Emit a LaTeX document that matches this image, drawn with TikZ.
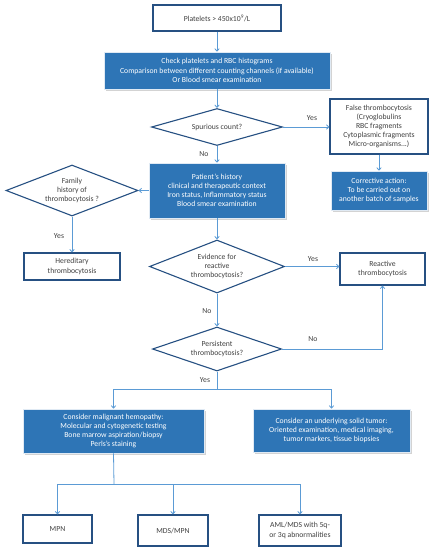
\documentclass[tikz,border=0pt]{standalone}
\usepackage{fontspec}
\setmainfont{Carlito}
\usetikzlibrary{shapes.geometric,arrows.meta,shadows}
\definecolor{bfill}{RGB}{46,117,182}
\definecolor{bdark}{RGB}{38,80,130}
\definecolor{lnk}{RGB}{91,155,213}
\definecolor{txt}{RGB}{64,64,64}
\tikzset{
  every node/.style={font=\fontsize{7.7}{9.2}\selectfont, align=center, inner sep=0pt},
  wbox/.style={rectangle, draw=bdark, line width=1.1pt, fill=white, text=txt},
  bbox/.style={rectangle, draw=white!85!bfill, line width=0.6pt, fill=bfill, text=white,
     drop shadow={shadow xshift=1.5pt, shadow yshift=-1.5pt, opacity=0.35, fill=gray}},
  dia/.style={diamond, draw=bdark, line width=1.1pt, fill=white},
  dtext/.style={text=txt},
  conn/.style={draw=lnk, line width=0.8pt, -{Straight Barb[length=2.5pt,width=4.5pt]}},
  plain/.style={draw=lnk, line width=0.8pt},
  lab/.style={text=txt}
}
\begin{document}
\begin{tikzpicture}[x=1pt,y=-1pt]
\useasboundingbox (0,0) rectangle (433,550);
\node[wbox, minimum width=128, minimum height=26] (plat) at (217,18) {Platelets > 450x10\textsuperscript{9}/L};
\node[bbox, minimum width=226, minimum height=37] (check) at (217,70.5) {Check platelets and RBC histograms\\Comparison between different counting channels (if available)\\Or Blood smear examination};
\node[dia, minimum width=131, minimum height=37] (spur) at (217,127) {};
\node[dtext] (spurt) at (spur.center) {Spurious count?};
\node[wbox, minimum width=98, minimum height=55] (false) at (379,126.5) {False thrombocytosis\\(Cryoglobulins\\RBC fragments\\Cytoplasmic fragments\\Micro-organisms...)};
\node[bbox, minimum width=136, minimum height=55] (pat) at (217,190.5) {Patient's history\\clinical and therapeutic context\\Iron status, Inflammatory status\\Blood smear examination};
\node[bbox, minimum width=96, minimum height=39] (corr) at (379,190.5) {Corrective action:\\To be carried out on\\another batch of samples};
\node[dia, minimum width=132, minimum height=51] (fam) at (72,190.5) {};
\node[dtext] (famt) at (fam.center) {Family\\history of\\thrombocytosis ?};
\node[wbox, minimum width=96, minimum height=27] (her) at (72,266.5) {Hereditary\\thrombocytosis};
\node[dia, minimum width=135, minimum height=53] (evid) at (217,266.5) {};
\node[dtext] (evidt) at (evid.center) {Evidence for\\reactive\\thrombocytosis?};
\node[wbox, minimum width=85, minimum height=32] (react) at (382.5,269) {Reactive\\thrombocytosis};
\node[dia, minimum width=129, minimum height=44] (pers) at (217,349) {};
\node[dtext] (perst) at (pers.center) {Persistent\\thrombocytosis?};
\node[bbox, minimum width=181, minimum height=44] (mal) at (113.5,431) {Consider malignant hemopathy:\\Molecular and cytogenetic testing\\Bone marrow aspiration/biopsy\\Perls's staining};
\node[bbox, minimum width=157, minimum height=43] (sol) at (331.5,430.5) {Consider an underlying solid tumor:\\Oriented examination, medical imaging,\\tumor markers, tissue biopsies};
\node[wbox, minimum width=69, minimum height=28] (mpn) at (57.5,529) {MPN};
\node[wbox, minimum width=70, minimum height=31] (mds) at (173,530.5) {MDS/MPN};
\node[wbox, minimum width=82, minimum height=31] (aml) at (300,530.5) {AML/MDS with 5q-\\or 3q abnormalities};
\coordinate (j1) at (217,389);
\coordinate (j2) at (114,484);
% connectors
\draw[conn] (plat) -- (check);
\draw[conn] (check) -- (spur);
\draw[conn] (spur.east) -- (spur.east -| false.west);
\draw[conn] (spur) -- (pat);
\draw[conn] (false) -- (corr);
\draw[conn] (pat.west) -- (fam.east);
\draw[conn] (fam) -- (her);
\draw[conn] (pat) -- (evid);
\draw[conn] (evid.east) -- (evid.east -| react.west);
\draw[conn] (evid) -- (pers);
\draw[conn] (pers.east) -| (react.south);
\draw[plain] (pers.south) -- (j1);
\draw[conn] (j1) -| (mal.north);
\draw[conn] (j1) -| (sol.north);
\draw[plain] (mal.south) -- (j2);
\draw[conn] (j2) -| (mpn.north);
\draw[conn] (j2) -| (mds.north);
\draw[conn] (j2) -| (aml.north);
% labels
\node[lab] (l1) at (312,118) {Yes};
\node[lab] (l2) at (204,154) {No};
\node[lab] (l3) at (59,236) {Yes};
\node[lab] (l4) at (313,259) {Yes};
\node[lab] (l5) at (207,311) {No};
\node[lab] (l6) at (313,339) {No};
\node[lab] (l7) at (205,380) {Yes};
\end{tikzpicture}
\end{document}
